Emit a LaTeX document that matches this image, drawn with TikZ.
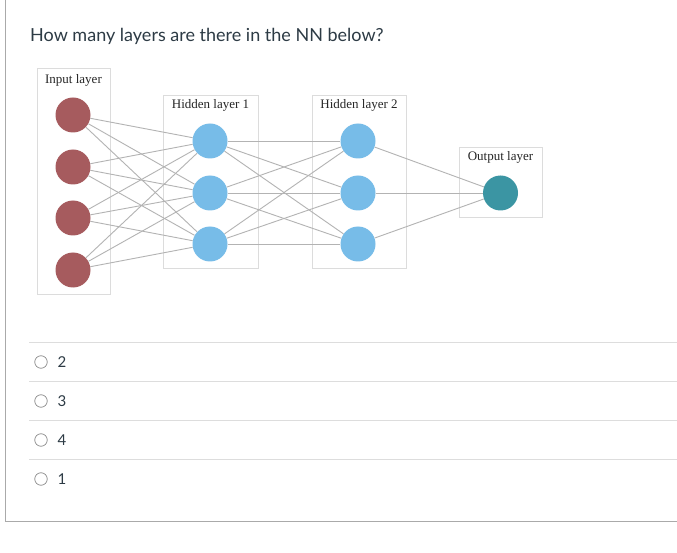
\documentclass[tikz,border=0pt]{standalone}
\usepackage{fontspec}
\setmainfont{Lato}
\newfontfamily\nnserif{Liberation Serif}
\usetikzlibrary{backgrounds}
\definecolor{inred}{HTML}{A65B5E}
\definecolor{hidblue}{HTML}{77BCE8}
\definecolor{outteal}{HTML}{3B95A3}
\definecolor{edgegray}{HTML}{B3B3B3}
\definecolor{boxgray}{HTML}{DCDCDC}
\definecolor{textdark}{HTML}{2D3B45}
\definecolor{sepgray}{HTML}{DDDDDD}
\definecolor{framegray}{HTML}{AAAAAA}
\definecolor{radiogray}{HTML}{8A8A8A}
\begin{document}
\begin{tikzpicture}[x=1pt,y=-1pt,
  neuron/.style={circle,minimum size=35pt,inner sep=0pt},
  innode/.style={neuron,fill=inred},
  hidnode/.style={neuron,fill=hidblue},
  outnode/.style={neuron,fill=outteal},
  layerbox/.style={draw=boxgray,line width=0.9pt,inner sep=0pt},
  layerlabel/.style={font=\nnserif\fontsize{13}{15}\selectfont,text=black!85},
  conn/.style={draw=edgegray,line width=0.9pt},
  sepline/.style={draw=sepgray,line width=0.9pt},
  radio/.style={circle,draw=radiogray,line width=0.7pt,minimum size=12.5pt,inner sep=0pt},
  optlabel/.style={anchor=west,font=\fontsize{15}{18}\selectfont,text=textdark},
]
\useasboundingbox (0,0) rectangle (677,553);
% frame
\draw[framegray,line width=0.9pt] (5,0) -- (5,521) -- (677,521);
% title
\node[anchor=base west,inner sep=0pt,font=\fontsize{18}{22}\selectfont,text=textdark] (title) at (30,42) {How many layers are there in the NN below?};
% labels
\node[layerlabel] (inlab) at (73.5,80) {Input layer};
\node[layerlabel] (h1lab) at (210.5,105) {Hidden layer 1};
\node[layerlabel] (h2lab) at (359,105) {Hidden layer 2};
\node[layerlabel] (outlab) at (500.5,157) {Output layer};
% neurons
\node[innode] (i1) at (73,115) {};
\node[innode] (i2) at (73,167) {};
\node[innode] (i3) at (73,218) {};
\node[innode] (i4) at (73,270) {};
\node[hidnode] (a1) at (210,141) {};
\node[hidnode] (a2) at (210,193) {};
\node[hidnode] (a3) at (210,244) {};
\node[hidnode] (b1) at (358,141) {};
\node[hidnode] (b2) at (358,193) {};
\node[hidnode] (b3) at (358,244) {};
\node[outnode] (o1) at (500.5,193) {};
% background: white page, layer boxes, connections
\begin{scope}[on background layer]
\fill[white] (0,0) rectangle (677,553);
\node[layerbox,minimum width=73pt,minimum height=226pt] (inbox) at (73.5,181) {};
\node[layerbox,minimum width=95pt,minimum height=173pt] (h1box) at (210.5,181.5) {};
\node[layerbox,minimum width=94pt,minimum height=173pt] (h2box) at (359,181.5) {};
\node[layerbox,minimum width=83pt,minimum height=70pt] (outbox) at (500.5,182) {};
\foreach \i in {1,...,4}{\foreach \j in {1,2,3}{\draw[conn] (i\i) -- (a\j);}}
\foreach \i in {1,2,3}{\foreach \j in {1,2,3}{\draw[conn] (a\i) -- (b\j);}}
\foreach \i in {1,2,3}{\draw[conn] (b\i) -- (o1);}
\end{scope}
% answer options
\draw[sepline] (29,342) -- (677,342);
\draw[sepline] (29,381) -- (677,381);
\draw[sepline] (29,420) -- (677,420);
\draw[sepline] (29,459) -- (677,459);
\node[radio] (r1) at (41,362) {};
\node[optlabel] (t1) at (54,362) {2};
\node[radio] (r2) at (41,401) {};
\node[optlabel] (t2) at (54,401) {3};
\node[radio] (r3) at (41,440) {};
\node[optlabel] (t3) at (54,440) {4};
\node[radio] (r4) at (41,479) {};
\node[optlabel] (t4) at (54,479) {1};
\end{tikzpicture}
\end{document}
